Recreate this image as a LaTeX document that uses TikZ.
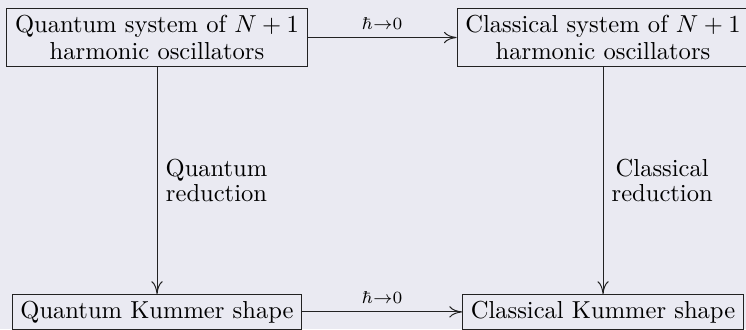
\documentclass[tikz,border=0pt]{standalone}
\usepackage{amsmath}
\usetikzlibrary{arrows.meta}
\definecolor{bgc}{HTML}{EAEAF2}
\definecolor{linec}{HTML}{222222}
\tikzset{
  boxnode/.style={draw=linec, fill=bgc, align=center, inner xsep=3.33pt, inner ysep=2.6pt, font=\normalsize},
  arrowline/.style={draw=linec, -{Computer Modern Rightarrow[length=5.2pt, width=4.6pt]}},
  limlabel/.style={font=\scriptsize, above, inner sep=3.2pt},
  redlabel/.style={align=center, right, inner sep=3.33pt}
}
\begin{document}
\begin{tikzpicture}[x=0.4072pt, y=-0.4072pt]
\fill[bgc] (0,0) rectangle (746,329);
\useasboundingbox (0,0) rectangle (746,329);
\node[boxnode] (tl) at (157,37.5) {Quantum system of $N+1$\\[-0.9pt] harmonic oscillators};
\node[boxnode] (tr) at (603,37.5) {Classical system of $N+1$\\[-0.9pt] harmonic oscillators};
\node[boxnode, anchor=north] (bl) at (157,294) {Quantum Kummer shape};
\node[boxnode, anchor=north] (br) at (603,294) {Classical Kummer shape};
\draw[arrowline] (tl.east) -- node[limlabel] (l1) {$\hbar{\to}0$} (tr.west);
\draw[arrowline] (bl.east) -- node[limlabel] (l2) {$\hbar{\to}0$} (br.west);
\draw[arrowline] (tl.south) -- node[redlabel] (l3) {Quantum\\[-1.5pt] reduction} (bl.north);
\draw[arrowline] (tr.south) -- node[redlabel] (l4) {Classical\\[-1.5pt] reduction} (br.north);
\end{tikzpicture}
\end{document}
